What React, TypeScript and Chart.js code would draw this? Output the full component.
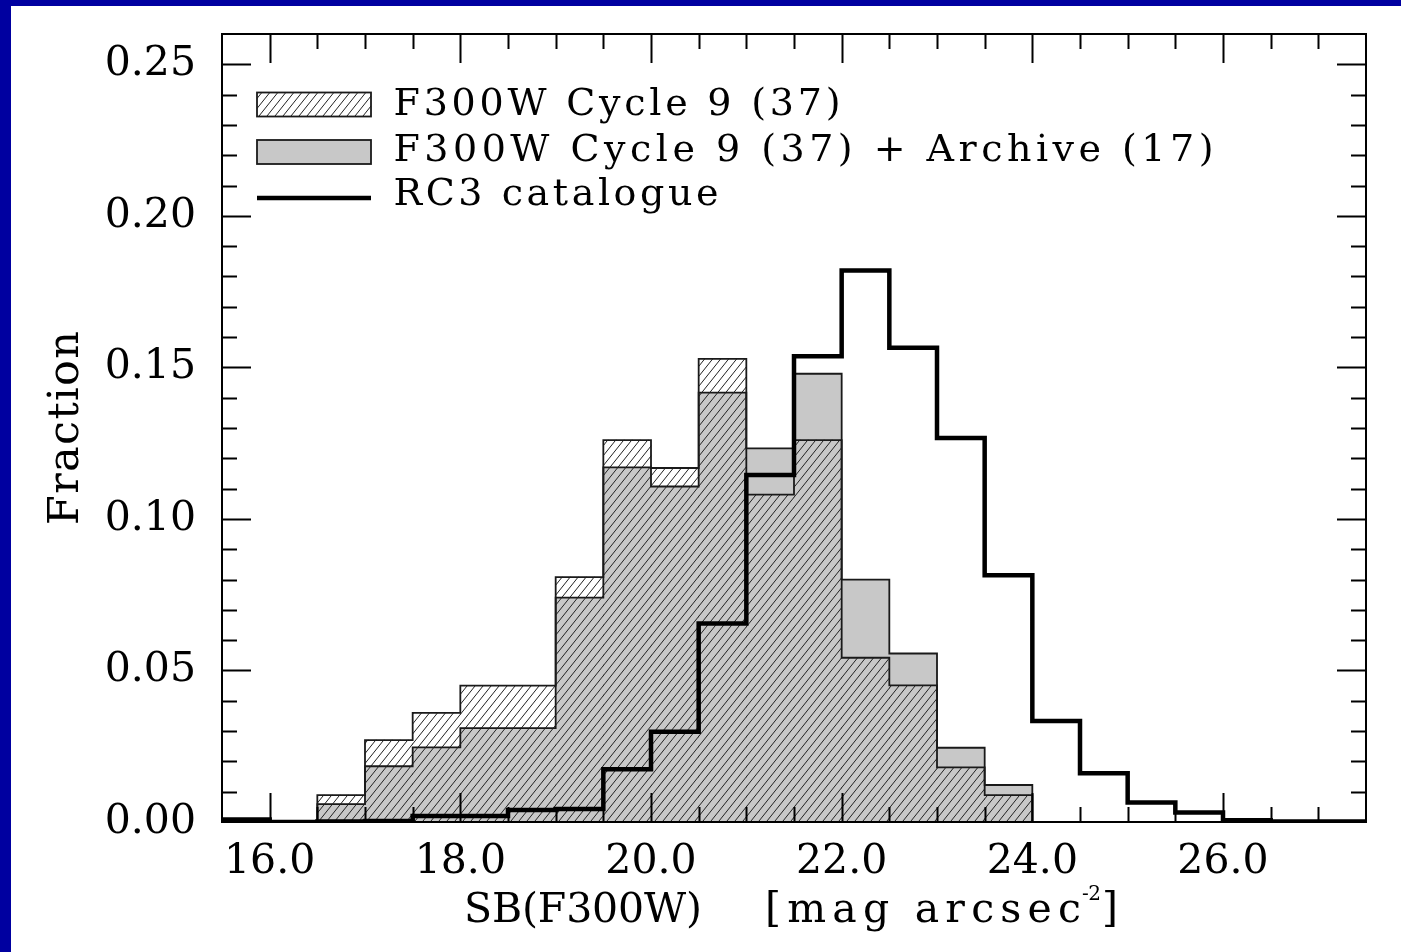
import React, { useEffect, useRef } from 'react';
import { Chart, registerables } from 'chart.js';

Chart.register(...registerables);

// Histogram bins (width 0.5 mag), centres of each bin
const binCenters = [
  15.75, 16.25, 16.75, 17.25, 17.75, 18.25, 18.75, 19.25, 19.75, 20.25, 20.75, 21.25,
  21.75, 22.25, 22.75, 23.25, 23.75, 24.25, 24.75, 25.25, 25.75, 26.25, 26.75, 27.25,
];
const binWidth = 0.5;

// F300W Cycle 9 (37) — hatched
const cycle9 = [
  0, 0, 0.0089, 0.027, 0.036, 0.045, 0.045, 0.0808, 0.126, 0.1168, 0.1528, 0.108,
  0.126, 0.0542, 0.0451, 0.018, 0.0089, 0, 0, 0, 0, 0, 0, 0,
];

// F300W Cycle 9 (37) + Archive (17) — grey
const cycle9Archive = [
  0, 0, 0.0059, 0.0184, 0.0246, 0.031, 0.031, 0.074, 0.117, 0.1107, 0.1417, 0.1233,
  0.1479, 0.08, 0.0556, 0.0245, 0.0122, 0, 0, 0, 0, 0, 0, 0,
];

// RC3 catalogue — thick step line
const rc3 = [
  0.0008, 0, 0.0002, 0.0003, 0.002, 0.002, 0.004, 0.0043, 0.0174, 0.0298, 0.0655, 0.1145,
  0.1537, 0.182, 0.1565, 0.1267, 0.0814, 0.0333, 0.0161, 0.0064, 0.0031, 0.0006, 0.0002, 0.0002,
];

const xMajorTicks = [16, 18, 20, 22, 24, 26];
const yMajorTicks = [0, 0.05, 0.1, 0.15, 0.2, 0.25];

const legendLabels = [
  'F300W Cycle 9 (37)',
  'F300W Cycle 9 (37) + Archive (17)',
  'RC3 catalogue',
];
const xTitleA = 'SB(F300W)';
const xTitleB = '[mag arcsec';
const xTitleSup = '-2';
const xTitleEnd = ']';
const yTitle = 'Fraction';

const FONT = "'DejaVu Serif', 'Liberation Serif', serif";
const GREY = 'rgb(200,200,200)';
const OUTLINE = '#1a1a1a';

function makeHatch(bg: string | null): CanvasPattern {
  const w = 8;
  const h = 10;
  const c = document.createElement('canvas');
  c.width = w;
  c.height = h;
  const g = c.getContext('2d')!;
  if (bg) {
    g.fillStyle = bg;
    g.fillRect(0, 0, w, h);
  }
  g.strokeStyle = '#222';
  g.lineWidth = 1;
  for (const k of [-1, 0, 1]) {
    g.beginPath();
    g.moveTo(-w, 2 * h + k * h);
    g.lineTo(2 * w, -h + k * h);
    g.stroke();
  }
  return g.createPattern(c, 'repeat')!;
}

function stepPoints(values: number[]) {
  const pts = values.map((v, i) => ({ x: binCenters[i] - binWidth / 2, y: v }));
  const last = values.length - 1;
  pts.push({ x: binCenters[last] + binWidth / 2, y: values[last] });
  return pts;
}

function setSpacing(ctx: any, px: number) {
  if ('letterSpacing' in ctx) ctx.letterSpacing = `${px}px`;
}

// draw text stretched (via letter spacing) to span a given width
function drawFit(
  ctx: CanvasRenderingContext2D,
  text: string,
  x: number,
  y: number,
  target: number,
  center = false,
) {
  setSpacing(ctx, 0);
  const nat = ctx.measureText(text).width;
  const ls = text.length > 1 ? (target - nat) / (text.length - 1) : 0;
  setSpacing(ctx, ls);
  ctx.textAlign = 'left';
  ctx.fillText(text, center ? x - target / 2 : x, y);
  setSpacing(ctx, 0);
}

export default function App() {
  const ref = useRef<HTMLCanvasElement | null>(null);

  useEffect(() => {
    const canvas = ref.current;
    if (!canvas) return;
    const hatchClear = makeHatch(null);
    const hatchWhite = makeHatch('#ffffff');

    const framePlugin = {
      id: 'frameTicks',
      afterDraw(chart: any) {
        const ctx = chart.ctx as CanvasRenderingContext2D;
        const { left, right, top, bottom } = chart.chartArea;
        const xs = chart.scales.x;
        const ys = chart.scales.y;
        ctx.save();
        ctx.strokeStyle = '#000';
        ctx.lineWidth = 2;
        // x ticks (every 0.5, majors every 2)
        for (let v = 16; v <= 27.0001; v += 0.5) {
          const px = Math.round(xs.getPixelForValue(v)) + 0.5;
          const major = xMajorTicks.some((m) => Math.abs(m - v) < 1e-6);
          const len = major ? 29 : 15;
          ctx.beginPath();
          ctx.moveTo(px, bottom);
          ctx.lineTo(px, bottom - len);
          ctx.moveTo(px, top);
          ctx.lineTo(px, top + len);
          ctx.stroke();
        }
        // y ticks (every 0.01, majors every 0.05)
        for (let i = 1; i <= 25; i++) {
          const v = i / 100;
          const py = Math.round(ys.getPixelForValue(v)) + 0.5;
          const major = yMajorTicks.some((m) => Math.abs(m - v) < 1e-6);
          const len = major ? 29 : 15;
          ctx.beginPath();
          ctx.moveTo(left, py);
          ctx.lineTo(left + len, py);
          ctx.moveTo(right, py);
          ctx.lineTo(right - len, py);
          ctx.stroke();
        }
        ctx.lineWidth = 2;
        ctx.strokeRect(left, top, right - left, bottom - top);

        // legend
        const bx = 246;
        const bw = 114;
        const rows = [98.5, 146, 192];
        ctx.fillStyle = hatchWhite;
        ctx.fillRect(bx, rows[0] - 12, bw, 24);
        ctx.lineWidth = 1.8;
        ctx.strokeStyle = OUTLINE;
        ctx.strokeRect(bx, rows[0] - 12, bw, 24);
        ctx.fillStyle = GREY;
        ctx.fillRect(bx, rows[1] - 12, bw, 24);
        ctx.strokeRect(bx, rows[1] - 12, bw, 24);
        ctx.strokeStyle = '#000';
        ctx.lineWidth = 4.5;
        ctx.beginPath();
        ctx.moveTo(bx, rows[2]);
        ctx.lineTo(bx + bw, rows[2]);
        ctx.stroke();

        ctx.fillStyle = '#000';
        ctx.textBaseline = 'alphabetic';
        ctx.font = `38px ${FONT}`;
        const baselines = [108.7, 154.5, 198.7];
        const widths = [447, 820, 325];
        legendLabels.forEach((t, i) => {
          drawFit(ctx, t, 382.5, baselines[i], widths[i]);
        });

        // x axis title
        ctx.font = `41px ${FONT}`;
        drawFit(ctx, xTitleA, 453, 916, 238);
        drawFit(ctx, xTitleB, 754, 916, 316);
        ctx.font = `20px ${FONT}`;
        drawFit(ctx, xTitleSup, 1071, 894, 19);
        ctx.font = `41px ${FONT}`;
        drawFit(ctx, xTitleEnd, 1091, 916, 13);

        // y axis title (rotated)
        ctx.font = `43px ${FONT}`;
        ctx.translate(67, (top + bottom) / 2);
        ctx.rotate(-Math.PI / 2);
        drawFit(ctx, yTitle, 0, 0, 194, true);
        ctx.restore();
      },
    };

    const chart = new Chart(canvas, {
      type: 'bar',
      data: {
        datasets: [
          {
            type: 'line',
            label: 'rc3',
            data: stepPoints(rc3),
            stepped: 'before',
            borderColor: '#000',
            borderWidth: 4.5,
            borderJoinStyle: 'miter',
            borderCapStyle: 'butt',
            pointRadius: 0,
            fill: false,
            order: 0,
          } as any,
          {
            type: 'line',
            label: 'c9-outline',
            data: stepPoints(cycle9),
            stepped: 'before',
            borderColor: OUTLINE,
            borderWidth: 1.8,
            pointRadius: 0,
            fill: false,
            order: 1,
          } as any,
          {
            type: 'line',
            label: 'c9a-outline',
            data: stepPoints(cycle9Archive),
            stepped: 'before',
            borderColor: OUTLINE,
            borderWidth: 1.8,
            pointRadius: 0,
            fill: false,
            order: 2,
          } as any,
          {
            type: 'bar',
            label: legendLabels[0],
            data: binCenters.map((x, i) => ({ x, y: cycle9[i] })),
            backgroundColor: hatchClear,
            borderWidth: 0,
            barPercentage: 1,
            categoryPercentage: 1,
            grouped: false,
            order: 3,
          } as any,
          {
            type: 'bar',
            label: legendLabels[1],
            data: binCenters.map((x, i) => ({ x, y: cycle9Archive[i] })),
            backgroundColor: GREY,
            borderWidth: 0,
            barPercentage: 1,
            categoryPercentage: 1,
            grouped: false,
            order: 4,
          } as any,
        ],
      },
      options: {
        responsive: false,
        animation: false,
        devicePixelRatio: 1,
        layout: { padding: { left: 0, top: 28, right: 35, bottom: 0 } },
        plugins: {
          legend: { display: false },
          tooltip: { enabled: false },
        },
        scales: {
          x: {
            type: 'linear',
            min: 15.5,
            max: 27.5,
            offset: false,
            bounds: 'data',
            grid: { display: false, drawTicks: false },
            border: { display: false },
            afterBuildTicks: (s: any) => {
              s.ticks = xMajorTicks.map((v) => ({ value: v }));
            },
            afterFit: (s: any) => {
              s.height = 130;
              s.paddingLeft = 0;
              s.paddingRight = 0;
            },
            ticks: {
              callback: (v: any) => Number(v).toFixed(1),
              font: { family: FONT, size: 41 },
              color: '#000',
              padding: 16,
              maxRotation: 0,
              minRotation: 0,
              autoSkip: false,
            },
          },
          y: {
            type: 'linear',
            min: 0,
            max: 0.26,
            bounds: 'data',
            grid: { display: false, drawTicks: false },
            border: { display: false },
            afterBuildTicks: (s: any) => {
              s.ticks = yMajorTicks.map((v) => ({ value: v }));
            },
            afterFit: (s: any) => {
              s.width = 211;
              s.paddingTop = 0;
              s.paddingBottom = 0;
            },
            ticks: {
              callback: (v: any) => Number(v).toFixed(2),
              font: { family: FONT, size: 41 },
              color: '#000',
              padding: 26,
              autoSkip: false,
            },
          },
        },
      } as any,
      plugins: [framePlugin],
    });

    return () => chart.destroy();
  }, []);

  return (
    <div
      style={{
        position: 'absolute',
        left: 0,
        top: 0,
        width: 1401,
        height: 952,
        boxSizing: 'border-box',
        borderLeft: '11px solid #0000a0',
        borderTop: '6px solid #0000a0',
        background: '#fff',
        overflow: 'hidden',
      }}
    >
      <canvas ref={ref} width={1390} height={946} style={{ display: 'block' }} />
    </div>
  );
}
